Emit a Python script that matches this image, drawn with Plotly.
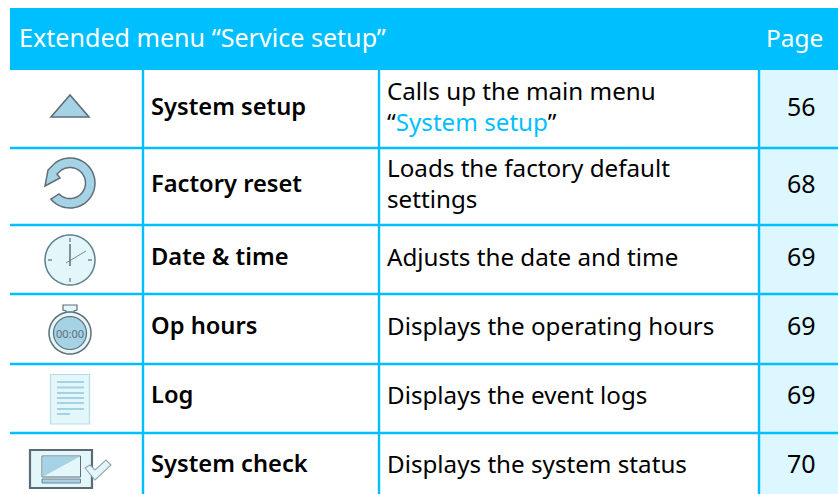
import math
import plotly.graph_objects as go

# ---- table content ----
HEADER_LEFT = "Extended menu “Service setup”"
HEADER_RIGHT = "Page"
FUNCTIONS = ["System setup", "Factory reset", "Date &amp; time", "Op hours", "Log", "System check"]
DESCRIPTIONS = [
    'Calls up the main menu<br>“<span style="color:#00BFFF">System setup</span>”',
    "Loads the factory default<br>settings",
    "Adjusts the date and time",
    "Displays the operating hours",
    "Displays the event logs",
    "Displays the system status",
]
PAGES = ["56", "68", "69", "69", "69", "70"]
TEXT_Y = [106, 183, 256, 325, 394, 463]

# ---- grid ----
W, H = 838, 494
ROW_LINES = [148, 225, 294, 364, 433]
COL_LINES = [143, 379, 759]
LEFT, HEAD_TOP, HEAD_BOTTOM = 10, 8, 70

BLUE = "#00BFFF"
PALE = "#DCF7FF"
ICE = "#E3F7FB"
STEEL = "#A5D3E5"
DARK = "#5F6E76"
FONT = "Noto Sans"
SIZE = 24.2

shapes = []


def add(kind, x0, y0, x1, y1, fill=None, line=None, w=0):
    shapes.append(dict(type=kind, xref="x", yref="y", x0=x0, y0=y0, x1=x1, y1=y1,
                       fillcolor=fill, line=dict(color=line, width=w), layer="above"))


def path(d, fill="rgba(0,0,0,0)", line=DARK, w=1.5):
    shapes.append(dict(type="path", xref="x", yref="y", path=d, fillcolor=fill,
                       line=dict(color=line, width=w), layer="above"))


def poly(pts, close=True):
    return "M " + " L ".join(f"{x:.2f},{y:.2f}" for x, y in pts) + (" Z" if close else "")


def arc(cx, cy, r, a0, a1, n=48):
    return [(cx + r * math.cos(math.radians(a0 + (a1 - a0) * i / n)),
             cy + r * math.sin(math.radians(a0 + (a1 - a0) * i / n))) for i in range(n + 1)]


# grid
add("rect", LEFT, HEAD_TOP, W, HEAD_BOTTOM, BLUE, BLUE, 0)
add("rect", COL_LINES[2], HEAD_BOTTOM, W, H, PALE, PALE, 0)
for y in ROW_LINES:
    add("line", LEFT, y, W, y, line=BLUE, w=2.4)
for x in COL_LINES:
    add("line", x, HEAD_BOTTOM, x, H, line=BLUE, w=2.4)

# triangle icon
path(poly([(51, 117), (89, 117), (70, 95)]), STEEL, DARK, 1.6)

# reset icon
ring = arc(70, 183, 25, 140, -125) + [(48, 170), (45, 186), (60, 178), (57, 174)] + arc(70, 183, 15.5, -125, 135)
path(poly(ring), STEEL, DARK, 1.5)

# clock icon
path(poly(arc(70, 260, 25, 0, 360, 72)), ICE, "#5F7F8C", 1.5)
for x0, y0, x1, y1 in [(70, 238, 70, 242), (70, 278, 70, 282), (48, 260, 52, 260), (88, 260, 92, 260)]:
    add("line", x0, y0, x1, y1, line=DARK, w=1.2)
add("line", 70, 244, 70, 266, line=DARK, w=1.5)
add("line", 66, 263, 86, 251, line=DARK, w=0.8)

# stopwatch icon
path(poly([(63, 305), (77, 305), (77, 310), (74, 311), (74, 316), (66, 316), (66, 311), (63, 310)]), ICE, DARK, 1.2)
path(poly(arc(70, 333, 21, 0, 360, 72)), ICE, DARK, 1.5)
path(poly(arc(70, 333, 16.5, 0, 360, 72)), STEEL, DARK, 1.2)

# log icon
add("rect", 50.5, 374.5, 89.5, 424, ICE, "#B5DDE8", 1.2)
for y, x1 in [(382, 84), (387.5, 84), (393, 84), (398, 84), (403, 84), (409, 84), (414, 70)]:
    add("line", 57, y, x1, y, line=STEEL, w=2)

# system check icon
add("rect", 30, 450, 92, 488, ICE, "#5A6B73", 2.2)
path(poly([(42, 456), (80.5, 456), (80.5, 477), (42, 477)]), ICE, DARK, 1)
path(poly([(42.5, 456.5), (80, 456.5), (42.5, 477)]), STEEL, "rgba(0,0,0,0)", 0)
path(poly([(42, 479), (80.5, 479), (80.5, 483), (42, 483)]), STEEL, DARK, 0.8)
path(poly([(85, 468), (95, 480), (111, 465), (106, 460), (95, 470), (90, 465)]), ICE, "#8FA5AE", 1.1)

annotations = []


def text(s, x, y, anchor="left", color="black", size=SIZE, weight=None):
    font = dict(family=FONT, size=size, color=color)
    if weight:
        font["weight"] = weight
    annotations.append(dict(text=s, x=x, y=y, xref="x", yref="y", xanchor=anchor, yanchor="middle",
                            showarrow=False, align="left", font=font))


text(HEADER_LEFT, 17, 37, color="white", size=25.1)
text(HEADER_RIGHT, 794.5, 37, "center", color="white", size=24.4)
for y, f, d, p in zip(TEXT_Y, FUNCTIONS, DESCRIPTIONS, PAGES):
    text(f, 149, y, weight=600, size=23.7)
    text(d, 385, y)
    text(p, 801.5, y, "center", size=25)
text("00:00", 70, 333, "center", color=DARK, size=11)

fig = go.Figure()
fig.update_layout(
    width=W, height=H, margin=dict(l=0, r=0, t=0, b=0),
    paper_bgcolor="white", plot_bgcolor="white", showlegend=False,
    xaxis=dict(range=[0, W], visible=False, fixedrange=True),
    yaxis=dict(range=[H, 0], visible=False, fixedrange=True),
    shapes=shapes, annotations=annotations,
)
fig.write_html("out.html", config=dict(displayModeBar=False),
               post_script="document.body.style.margin='0';document.body.style.overflow='hidden';")
